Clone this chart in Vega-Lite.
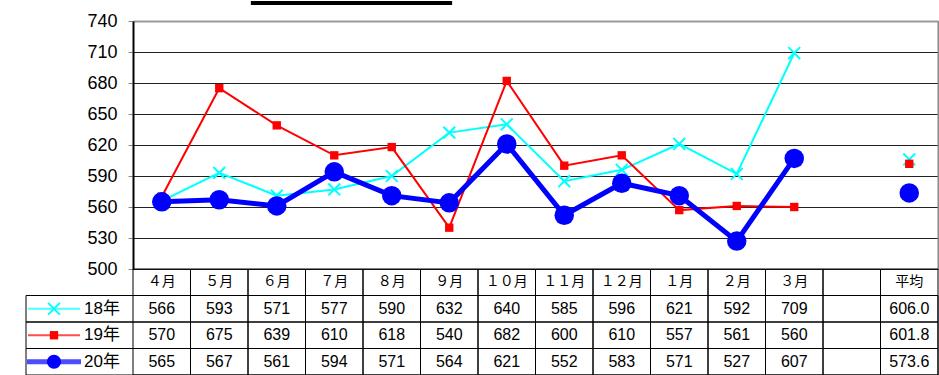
{
  "$schema": "https://vega.github.io/schema/vega-lite/v6.json",
  "padding": {"left": 25, "top": 0, "right": 1, "bottom": 0},
  "spacing": 0,
  "bounds": "flush",
  "config": {"view": {"stroke": null}, "font": "Liberation Sans"},
  "datasets": {
    "months": [
      {"m": "４月"}, {"m": "５月"}, {"m": "６月"}, {"m": "７月"}, {"m": "８月"}, {"m": "９月"},
      {"m": "１０月"}, {"m": "１１月"}, {"m": "１２月"}, {"m": "１月"}, {"m": "２月"}, {"m": "３月"},
      {"m": "　"}, {"m": "平均"}
    ],
    "rows": [{"r": "18年"}, {"r": "19年"}, {"r": "20年"}],
    "vals": [
      {"m": "４月", "s": "18年", "v": 566}, {"m": "５月", "s": "18年", "v": 593}, {"m": "６月", "s": "18年", "v": 571},
      {"m": "７月", "s": "18年", "v": 577}, {"m": "８月", "s": "18年", "v": 590}, {"m": "９月", "s": "18年", "v": 632},
      {"m": "１０月", "s": "18年", "v": 640}, {"m": "１１月", "s": "18年", "v": 585}, {"m": "１２月", "s": "18年", "v": 596},
      {"m": "１月", "s": "18年", "v": 621}, {"m": "２月", "s": "18年", "v": 592}, {"m": "３月", "s": "18年", "v": 709},
      {"m": "平均", "s": "18年", "v": 606.0},
      {"m": "４月", "s": "19年", "v": 570}, {"m": "５月", "s": "19年", "v": 675}, {"m": "６月", "s": "19年", "v": 639},
      {"m": "７月", "s": "19年", "v": 610}, {"m": "８月", "s": "19年", "v": 618}, {"m": "９月", "s": "19年", "v": 540},
      {"m": "１０月", "s": "19年", "v": 682}, {"m": "１１月", "s": "19年", "v": 600}, {"m": "１２月", "s": "19年", "v": 610},
      {"m": "１月", "s": "19年", "v": 557}, {"m": "２月", "s": "19年", "v": 561}, {"m": "３月", "s": "19年", "v": 560},
      {"m": "平均", "s": "19年", "v": 601.8},
      {"m": "４月", "s": "20年", "v": 565}, {"m": "５月", "s": "20年", "v": 567}, {"m": "６月", "s": "20年", "v": 561},
      {"m": "７月", "s": "20年", "v": 594}, {"m": "８月", "s": "20年", "v": 571}, {"m": "９月", "s": "20年", "v": 564},
      {"m": "１０月", "s": "20年", "v": 621}, {"m": "１１月", "s": "20年", "v": 552}, {"m": "１２月", "s": "20年", "v": 583},
      {"m": "１月", "s": "20年", "v": 571}, {"m": "２月", "s": "20年", "v": 527}, {"m": "３月", "s": "20年", "v": 607},
      {"m": "平均", "s": "20年", "v": 573.6}
    ]
  },
  "vconcat": [
    {
      "width": 912,
      "height": 248,
      "resolve": {"axis": {"y": "independent"}},
      "layer": [
        {
          "data": {"name": "vals"},
          "transform": [{"filter": "datum.s === '18年' && datum.m !== '平均'"}],
          "mark": {"type": "line", "color": "#00FFFF", "strokeWidth": 2},
          "encoding": {
            "x": {"field": "m", "type": "nominal", "sort": null,
              "scale": {"type": "band", "domain": ["４月","５月","６月","７月","８月","９月","１０月","１１月","１２月","１月","２月","３月","　","平均"], "range": [107, 912], "paddingInner": 0, "paddingOuter": 0},
              "axis": {"orient": "top", "labels": false, "ticks": false, "grid": false, "domainColor": "#999999", "domainWidth": 2, "title": null}},
            "y": {"field": "v", "type": "quantitative",
              "scale": {"domain": [500, 740], "nice": false, "zero": false},
              "axis": {"orient": "left", "offset": -107, "values": [500, 530, 560, 590, 620, 650, 680, 710, 740],
                "title": null, "domainColor": "#000000", "domainWidth": 2, "tickColor": "#888888", "tickSize": 5,
                "labelFont": "Liberation Sans", "labelFontSize": 18, "labelColor": "#000000", "labelPadding": 11,
                "grid": true, "gridWidth": 1,
                "gridColor": {"condition": {"test": "datum.value == 740", "value": "#999999"}, "value": "#222222"}}}
          }
        },
        {
          "data": {"name": "vals"},
          "transform": [{"filter": "datum.s === '18年'"}],
          "mark": {"type": "point", "shape": "M-1,-1L1,1M-1,1L1,-1", "filled": false, "stroke": "#00FFFF", "strokeWidth": 2, "size": 140, "opacity": 1},
          "encoding": {
            "x": {"field": "m", "type": "nominal", "sort": null, "scale": {"type": "band"}},
            "y": {"field": "v", "type": "quantitative", "axis": null}
          }
        },
        {
          "data": {"name": "vals"},
          "transform": [{"filter": "datum.s === '19年' && datum.m !== '平均'"}],
          "mark": {"type": "line", "color": "#FF0000", "strokeWidth": 2},
          "encoding": {
            "x": {"field": "m", "type": "nominal", "sort": null, "scale": {"type": "band"}},
            "y": {"field": "v", "type": "quantitative", "axis": null}
          }
        },
        {
          "data": {"name": "vals"},
          "transform": [{"filter": "datum.s === '19年'"}],
          "mark": {"type": "point", "shape": "square", "filled": true, "color": "#FF0000", "size": 70, "opacity": 1},
          "encoding": {
            "x": {"field": "m", "type": "nominal", "sort": null, "scale": {"type": "band"}},
            "y": {"field": "v", "type": "quantitative", "axis": null}
          }
        },
        {
          "data": {"name": "vals"},
          "transform": [{"filter": "datum.s === '20年' && datum.m !== '平均'"}],
          "mark": {"type": "line", "color": "#0000FF", "strokeWidth": 5},
          "encoding": {
            "x": {"field": "m", "type": "nominal", "sort": null, "scale": {"type": "band"}},
            "y": {"field": "v", "type": "quantitative", "axis": null}
          }
        },
        {
          "data": {"name": "vals"},
          "transform": [{"filter": "datum.s === '20年'"}],
          "mark": {"type": "point", "shape": "circle", "filled": true, "color": "#0000FF", "size": 380, "opacity": 1},
          "encoding": {
            "x": {"field": "m", "type": "nominal", "sort": null, "scale": {"type": "band"}},
            "y": {"field": "v", "type": "quantitative", "axis": null}
          }
        },
        {
          "data": {"name": "vals"},
          "mark": {"type": "point", "opacity": 0},
          "encoding": {
            "x": {"field": "m", "type": "nominal", "sort": null, "scale": {"type": "band"}},
            "y": {"field": "v", "type": "quantitative",
              "axis": {"orient": "right", "labels": false, "ticks": false, "grid": false, "domainColor": "#888888", "domainWidth": 2, "title": null}}
          }
        },
        {
          "data": {"values": [{}]},
          "mark": {"type": "rect", "color": "#000000", "clip": false},
          "encoding": {
            "x": {"datum": "６月", "type": "nominal", "bandPosition": 0.05, "scale": {"type": "band"}},
            "x2": {"datum": "９月", "bandPosition": 0.55},
            "y": {"datum": 759.4, "type": "quantitative", "axis": null},
            "y2": {"datum": 755.6}
          }
        }
      ]
    },
    {
      "width": 912,
      "height": 106,
      "resolve": {"scale": {"x": "independent"}, "axis": {"x": "independent"}},
      "layer": [
        {
          "layer": [
            {
              "data": {"name": "months"},
              "mark": {"type": "rect", "fill": null, "stroke": "#000000", "strokeWidth": 1},
              "encoding": {
                "x": {"field": "m", "type": "nominal", "sort": null, "axis": null,
                  "scale": {"type": "band", "domain": ["４月","５月","６月","７月","８月","９月","１０月","１１月","１２月","１月","２月","３月","　","平均"], "range": [107, 912], "paddingInner": 0, "paddingOuter": 0}}
              }
            },
            {
              "data": {"name": "rows"},
              "mark": {"type": "rect", "fill": null, "stroke": "#000000", "strokeWidth": 1},
              "encoding": {
                "y": {"field": "r", "type": "nominal", "axis": null,
                  "scale": {"type": "band", "domain": ["h", "18年", "19年", "20年"], "paddingInner": 0, "paddingOuter": 0}}
              }
            },
            {
              "data": {"name": "months"},
              "mark": {"type": "text", "font": "Noto Sans CJK JP", "fontSize": 14, "color": "#000000"},
              "encoding": {
                "x": {"field": "m", "type": "nominal", "sort": null},
                "y": {"datum": "h", "type": "nominal"},
                "text": {"field": "m"}
              }
            },
            {
              "data": {"name": "vals"},
              "transform": [{"filter": "datum.m !== '平均'"}],
              "mark": {"type": "text", "font": "Liberation Sans", "fontSize": 16, "color": "#000000"},
              "encoding": {
                "x": {"field": "m", "type": "nominal", "sort": null},
                "y": {"field": "s", "type": "nominal"},
                "text": {"field": "v", "type": "quantitative", "format": "d"}
              }
            },
            {
              "data": {"name": "vals"},
              "transform": [{"filter": "datum.m === '平均'"}],
              "mark": {"type": "text", "font": "Liberation Sans", "fontSize": 16, "color": "#000000"},
              "encoding": {
                "x": {"field": "m", "type": "nominal", "sort": null},
                "y": {"field": "s", "type": "nominal"},
                "text": {"field": "v", "type": "quantitative", "format": ".1f"}
              }
            }
          ]
        },
        {
          "layer": [
            {
              "data": {"name": "rows"},
              "transform": [{"filter": "datum.r === '18年'"}],
              "mark": {"type": "tick", "orient": "horizontal", "size": 52, "thickness": 2, "color": "#00FFFF"},
              "encoding": {
                "x": {"datum": "sym", "type": "nominal", "axis": null,
                  "scale": {"type": "band", "domain": ["sym", "lab"], "range": [4, 100], "paddingInner": 0, "paddingOuter": 0}},
                "y": {"field": "r", "type": "nominal"}
              }
            },
            {
              "data": {"name": "rows"},
              "transform": [{"filter": "datum.r === '18年'"}],
              "mark": {"type": "point", "shape": "M-1,-1L1,1M-1,1L1,-1", "filled": false, "stroke": "#00FFFF", "strokeWidth": 2, "size": 140, "opacity": 1},
              "encoding": {
                "x": {"datum": "sym", "type": "nominal"},
                "y": {"field": "r", "type": "nominal"}
              }
            },
            {
              "data": {"name": "rows"},
              "transform": [{"filter": "datum.r === '19年'"}],
              "mark": {"type": "tick", "orient": "horizontal", "size": 52, "thickness": 2, "color": "#FF0000"},
              "encoding": {
                "x": {"datum": "sym", "type": "nominal"},
                "y": {"field": "r", "type": "nominal"}
              }
            },
            {
              "data": {"name": "rows"},
              "transform": [{"filter": "datum.r === '19年'"}],
              "mark": {"type": "point", "shape": "square", "filled": true, "color": "#FF0000", "size": 70, "opacity": 1},
              "encoding": {
                "x": {"datum": "sym", "type": "nominal"},
                "y": {"field": "r", "type": "nominal"}
              }
            },
            {
              "data": {"name": "rows"},
              "transform": [{"filter": "datum.r === '20年'"}],
              "mark": {"type": "tick", "orient": "horizontal", "size": 54, "thickness": 5, "color": "#0000FF"},
              "encoding": {
                "x": {"datum": "sym", "type": "nominal"},
                "y": {"field": "r", "type": "nominal"}
              }
            },
            {
              "data": {"name": "rows"},
              "transform": [{"filter": "datum.r === '20年'"}],
              "mark": {"type": "point", "shape": "circle", "filled": true, "color": "#0000FF", "size": 200, "opacity": 1},
              "encoding": {
                "x": {"datum": "sym", "type": "nominal"},
                "y": {"field": "r", "type": "nominal"}
              }
            },
            {
              "data": {"name": "rows"},
              "mark": {"type": "text", "font": "Liberation Sans, Noto Sans CJK JP", "fontSize": 17, "color": "#000000"},
              "encoding": {
                "x": {"datum": "lab", "type": "nominal"},
                "y": {"field": "r", "type": "nominal"},
                "text": {"field": "r"}
              }
            }
          ]
        }
      ]
    }
  ]
}
